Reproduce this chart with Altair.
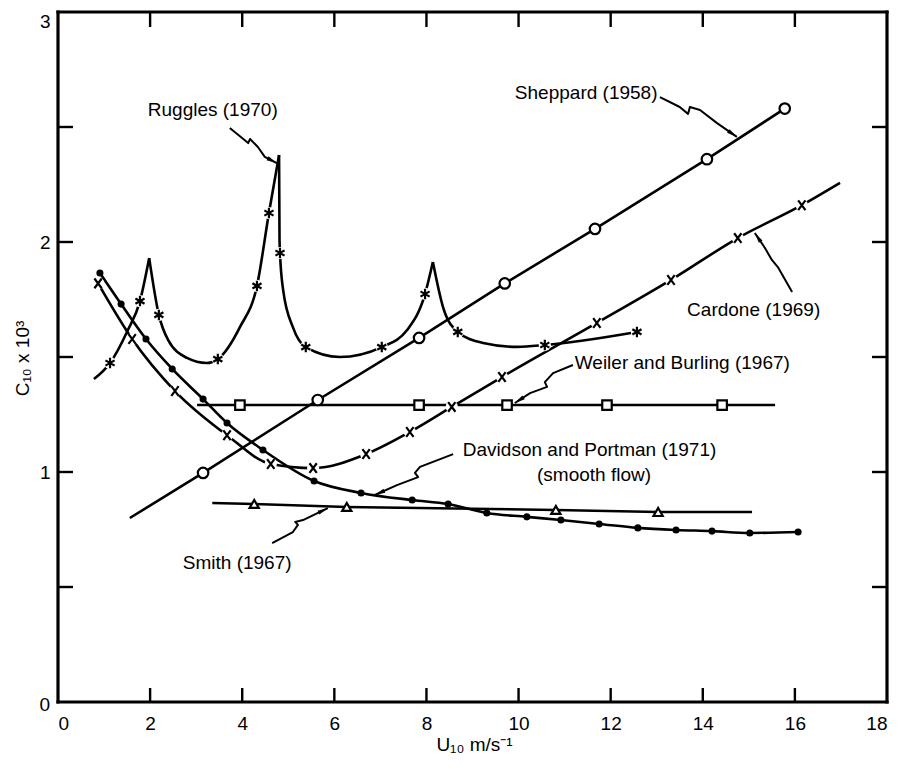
import math
import altair as alt
import pandas as pd

# ---------------- data ----------------
x_tick_values = [2, 4, 6, 8, 10, 12, 14, 16]
y_tick_values = [0.5, 1.0, 1.5, 2.0, 2.5]
x_label_values = [0, 2, 4, 6, 8, 10, 12, 14, 16, 18]
y_label_values = [1, 2, 3]
y_zero_label = ["0"]

# Sheppard (1958) - open circles, straight line
sheppard_line_x = [1.56, 3.15, 5.64, 7.84, 9.70, 11.66, 14.09, 15.78]
sheppard_line_y = [0.80, 0.996, 1.313, 1.583, 1.82, 2.057, 2.36, 2.58]
sheppard_pts_x = [3.15, 5.64, 7.84, 9.70, 11.66, 14.09, 15.78]
sheppard_pts_y = [0.996, 1.313, 1.583, 1.82, 2.057, 2.36, 2.58]

# Cardone (1969) - X markers
cardone_line_x = [0.87, 1.61, 2.54, 3.67, 4.62, 5.54, 6.69, 7.64, 8.55, 9.64, 11.70, 13.31, 14.76, 16.15, 16.98]
cardone_line_y = [1.82, 1.578, 1.352, 1.16, 1.035, 1.017, 1.078, 1.174, 1.283, 1.413, 1.648, 1.835, 2.017, 2.16, 2.257]
cardone_pts_x = [0.87, 1.61, 2.54, 3.67, 4.62, 5.54, 6.69, 7.64, 8.55, 9.64, 11.70, 13.31, 14.76, 16.15]
cardone_pts_y = [1.82, 1.578, 1.352, 1.16, 1.035, 1.017, 1.078, 1.174, 1.283, 1.413, 1.648, 1.835, 2.017, 2.16]

# Davidson and Portman (1971) - filled dots
davidson_x = [0.91, 1.37, 1.91, 2.48, 3.15, 3.67, 4.45, 5.56, 6.58, 7.69, 8.47, 9.31, 10.18, 10.92, 11.75, 12.59, 13.42, 14.2, 15.02, 16.07]
davidson_y = [1.865, 1.73, 1.578, 1.448, 1.317, 1.213, 1.096, 0.961, 0.909, 0.878, 0.861, 0.822, 0.805, 0.791, 0.774, 0.757, 0.748, 0.743, 0.735, 0.739]

# Smith (1967) - open triangles
smith_line_x = [3.35, 4.26, 6.27, 10.81, 13.03, 15.07]
smith_line_y = [0.865, 0.861, 0.848, 0.835, 0.826, 0.826]
smith_pts_x = [4.26, 6.27, 10.81, 13.03]
smith_pts_y = [0.861, 0.848, 0.835, 0.826]

# Weiler and Burling (1967) - open squares
weiler_line_x = [3.02, 15.57]
weiler_line_y = [1.291, 1.291]
weiler_pts_x = [3.95, 7.84, 9.75, 11.92, 14.42]
weiler_pts_y = [1.291, 1.291, 1.291, 1.291, 1.291]

# Ruggles (1970) - asterisks, curve with cusps (segments split at the cusps)
ruggles_curve_x = [0.78, 1.13, 1.50, 1.78, 1.98,
                   1.98, 2.19, 2.39, 2.80, 3.23, 3.47, 3.95, 4.32, 4.58, 4.80,
                   4.80, 4.81, 4.82, 4.89, 5.10, 5.38, 6.12, 7.03, 7.58, 7.97, 8.14,
                   8.14, 8.36, 8.68, 9.23, 9.97, 10.57, 12.57]
ruggles_curve_y = [1.404, 1.474, 1.61, 1.743, 1.930,
                   1.930, 1.683, 1.574, 1.496, 1.474, 1.491, 1.63, 1.809, 2.126, 2.378,
                   2.378, 2.009, 1.952, 1.79, 1.63, 1.543, 1.50, 1.543, 1.617, 1.774, 1.913,
                   1.913, 1.717, 1.609, 1.561, 1.544, 1.552, 1.609]
ruggles_curve_seg = [0] * 5 + [1] * 10 + [2] * 11 + [3] * 7
ruggles_pts_x = [1.13, 1.78, 2.19, 3.47, 4.32, 4.58, 4.82, 5.38, 7.03, 7.97, 8.68, 10.57, 12.57]
ruggles_pts_y = [1.474, 1.743, 1.683, 1.491, 1.809, 2.126, 1.952, 1.543, 1.543, 1.774, 1.609, 1.552, 1.609]

# annotation labels
label_text = ["Sheppard (1958)", "Ruggles (1970)", "Cardone (1969)", "Weiler and Burling (1967)",
              "Davidson and Portman (1971)", "(smooth flow)", "Smith (1967)"]
label_x = [9.92, 1.95, 13.66, 11.22, 8.79, 10.40, 2.71]
label_y = [2.648, 2.574, 1.704, 1.474, 1.096, 0.987, 0.604]

# leader squiggles (last point = arrow tip)
leaders = {
    "Sheppard": ([13.07, 13.50, 13.68, 13.72, 13.94, 14.31, 14.74],
                 [2.630, 2.587, 2.557, 2.587, 2.574, 2.517, 2.457]),
    "Ruggles": ([3.73, 4.13, 4.17, 4.34, 4.49, 4.75],
                [2.496, 2.430, 2.448, 2.413, 2.370, 2.343]),
    "Cardone": ([15.94, 15.63, 15.50, 15.35, 15.13],
                [1.783, 1.891, 1.922, 1.974, 2.039]),
    "Weiler": ([11.18, 10.75, 10.57, 10.62, 10.25, 9.92],
               [1.465, 1.430, 1.391, 1.370, 1.343, 1.300]),
    "Davidson": ([8.58, 7.86, 7.75, 7.82, 7.36, 6.88],
                 [1.078, 1.022, 0.996, 0.978, 0.943, 0.900]),
    "Smith": ([4.65, 5.10, 5.21, 5.15, 5.32, 5.86],
              [0.691, 0.739, 0.770, 0.783, 0.791, 0.843]),
}

# ---------------- layout ----------------
W, H = 829, 690
XMAX, YMAX = 18, 3
FONT = "Liberation Sans"
FS = 19


def df(xs, ys, **extra):
    d = pd.DataFrame({"x": xs, "y": ys})
    for k, v in extra.items():
        d[k] = v
    d["order"] = range(len(d))
    return d


xscale = alt.Scale(domain=[0, XMAX], nice=False, zero=False)
yscale = alt.Scale(domain=[0, YMAX], nice=False, zero=False)
xaxis = alt.Axis(values=x_label_values, ticks=False, domain=False, grid=False,
                 labelFontSize=FS, labelPadding=12, labelColor="black", format="d",
                 title="U₁₀ m/s⁻¹", titleFontSize=FS, titleFontWeight="normal", titleColor="black",
                 titleX=416, titleY=42, titleAlign="center", titleBaseline="middle")
yaxis = alt.Axis(values=y_label_values, ticks=False, domain=False, grid=False,
                 labelFontSize=FS, labelPadding=8, labelColor="black", format="d",
                 labelFlush=True,
                 title="C₁₀ x 10³", titleFontSize=FS, titleFontWeight="normal", titleColor="black",
                 titleAngle=270, titleX=-36, titleY=346, titleAlign="center", titleBaseline="middle")


def X():
    return alt.X("x:Q", scale=xscale, axis=xaxis)


def Y():
    return alt.Y("y:Q", scale=yscale, axis=yaxis)


LW = 2.6
layers = []


def line(d, interp="linear", detail=None):
    enc = dict(x=X(), y=Y(), order="order:Q")
    if detail:
        enc["detail"] = detail
    return alt.Chart(d).mark_line(color="black", strokeWidth=LW, interpolate=interp).encode(**enc)


# lines
layers.append(line(df(sheppard_line_x, sheppard_line_y)))
layers.append(line(df(weiler_line_x, weiler_line_y)))
layers.append(line(df(smith_line_x, smith_line_y)))
layers.append(line(df(cardone_line_x, cardone_line_y), "monotone"))
layers.append(line(df(davidson_x, davidson_y), "monotone"))
layers.append(line(df(ruggles_curve_x, ruggles_curve_y, seg=ruggles_curve_seg), "monotone", "seg:N"))

# white halos under stroked markers (gaps in the lines)
halo = pd.concat([df(cardone_pts_x, cardone_pts_y), df(ruggles_pts_x, ruggles_pts_y)])
layers.append(alt.Chart(halo).mark_point(shape="circle", filled=True, fill="white",
                                         opacity=1, size=150, strokeWidth=0).encode(x=X(), y=Y()))

X_PATH = "M-0.75,-1L0.75,1M-0.75,1L0.75,-1"
AST_PATH = "M0,-1L0,1M-0.87,-0.5L0.87,0.5M-0.87,0.5L0.87,-0.5"

layers.append(alt.Chart(df(sheppard_pts_x, sheppard_pts_y)).mark_point(
    shape="circle", filled=False, fill="white", fillOpacity=1, stroke="black", strokeWidth=2.2,
    size=110, opacity=1).encode(x=X(), y=Y()))
layers.append(alt.Chart(df(weiler_pts_x, weiler_pts_y)).mark_point(
    shape="square", filled=False, fill="white", fillOpacity=1, stroke="black", strokeWidth=2.2,
    size=90, opacity=1).encode(x=X(), y=Y()))
layers.append(alt.Chart(df(smith_pts_x, smith_pts_y)).mark_point(
    shape="triangle-up", filled=False, fill="white", fillOpacity=1, stroke="black", strokeWidth=2.2,
    size=85, opacity=1).encode(x=X(), y=Y()))
layers.append(alt.Chart(df(cardone_pts_x, cardone_pts_y)).mark_point(
    shape=X_PATH, filled=False, stroke="black", strokeWidth=2.2, size=95, opacity=1).encode(x=X(), y=Y()))
layers.append(alt.Chart(df(ruggles_pts_x, ruggles_pts_y)).mark_point(
    shape=AST_PATH, filled=False, stroke="black", strokeWidth=2.2, size=110, opacity=1).encode(x=X(), y=Y()))
layers.append(alt.Chart(df(davidson_x, davidson_y)).mark_point(
    shape="circle", filled=True, color="black", size=50, opacity=1).encode(x=X(), y=Y()))

# leader lines and arrowheads
lead_rows = []
arrow_rows = []
for name, (lx, ly) in leaders.items():
    for i, (a, b) in enumerate(zip(lx, ly)):
        lead_rows.append({"x": a, "y": b, "name": name, "order": i})
    dx = (lx[-1] - lx[-2]) * W / XMAX
    dy = -(ly[-1] - ly[-2]) * H / YMAX
    ang = math.degrees(math.atan2(dy, dx)) % 360
    arrow_rows.append({"x": lx[-1], "y": ly[-1], "angle": ang})
layers.append(alt.Chart(pd.DataFrame(lead_rows)).mark_line(
    color="black", strokeWidth=2.0, interpolate="linear", strokeJoin="round").encode(
    x=X(), y=Y(), detail="name:N", order="order:Q"))
ARROW_PATH = "M0,0L-2.6,-0.55L-2.6,0.55Z"
layers.append(alt.Chart(pd.DataFrame(arrow_rows)).mark_point(
    shape=ARROW_PATH, filled=True, color="black", size=64, opacity=1).encode(
    x=X(), y=Y(), angle=alt.Angle("angle:Q", scale=None)))

# text labels
layers.append(alt.Chart(pd.DataFrame({"x": label_x, "y": label_y, "t": label_text})).mark_text(
    align="left", baseline="middle", fontSize=FS, font=FONT, color="black").encode(
    x=X(), y=Y(), text="t:N"))

# y-axis "0" label (sits slightly below the corner, as in the original)
layers.append(alt.Chart(pd.DataFrame({"t": y_zero_label})).mark_text(
    align="right", baseline="middle", fontSize=FS, font=FONT, color="black").encode(
    x=alt.value(-8), y=alt.value(H + 3), text="t:N"))

# inward ticks on all four sides
xt = pd.DataFrame({"x": x_tick_values})
yt = pd.DataFrame({"y": y_tick_values})
layers.append(alt.Chart(xt).mark_rule(color="black", strokeWidth=2.4).encode(
    x=X(), y=alt.value(H), y2=alt.value(H - 14)))
layers.append(alt.Chart(xt).mark_rule(color="black", strokeWidth=2.4).encode(
    x=X(), y=alt.value(0), y2=alt.value(15)))
layers.append(alt.Chart(yt).mark_rule(color="black", strokeWidth=2.4).encode(
    y=Y(), x=alt.value(0), x2=alt.value(15)))
layers.append(alt.Chart(yt).mark_rule(color="black", strokeWidth=2.4).encode(
    y=Y(), x=alt.value(W), x2=alt.value(W - 15)))

# frame
frame = pd.DataFrame({"k": [0]})
FW = 3.2
layers.append(alt.Chart(frame).mark_rule(color="black", strokeWidth=FW, strokeCap="square").encode(
    x=alt.value(0), x2=alt.value(W), y=alt.value(0)))
layers.append(alt.Chart(frame).mark_rule(color="black", strokeWidth=FW, strokeCap="square").encode(
    x=alt.value(0), x2=alt.value(W), y=alt.value(H)))
layers.append(alt.Chart(frame).mark_rule(color="black", strokeWidth=FW, strokeCap="square").encode(
    y=alt.value(0), y2=alt.value(H), x=alt.value(0)))
layers.append(alt.Chart(frame).mark_rule(color="black", strokeWidth=FW, strokeCap="square").encode(
    y=alt.value(0), y2=alt.value(H), x=alt.value(W)))

chart = alt.layer(*layers).properties(
    width=W, height=H,
    padding={"left": 50, "top": 4, "right": 2, "bottom": 52},
    autosize=alt.AutoSizeParams(type="none"),
).configure_view(
    stroke=None, fill="white"
).configure(
    font=FONT, background="white"
).configure_axis(labelFont=FONT, titleFont=FONT)

chart.save("out.html", embed_options={"renderer": "svg", "actions": False})
